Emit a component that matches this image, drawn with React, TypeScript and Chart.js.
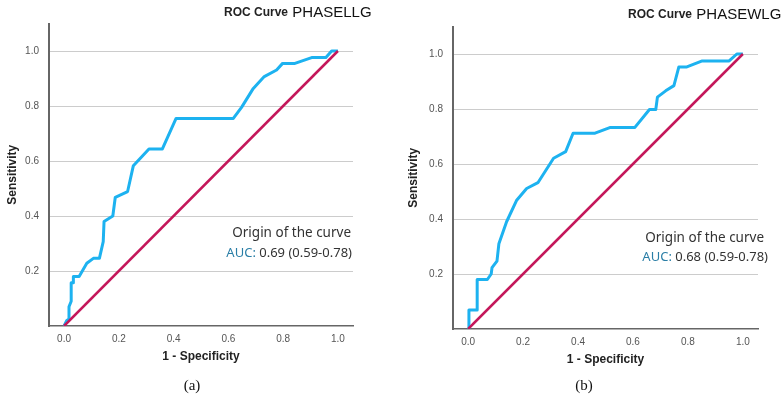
import React, { useEffect, useRef } from "react";
import { Chart, registerables } from "chart.js";

Chart.register(...registerables);

// ---- data ----
const xTickValues = [0, 0.2, 0.4, 0.6, 0.8, 1.0];
const yTickValues = [0.2, 0.4, 0.6, 0.8, 1.0];
const diagonalX = [0, 1];
const diagonalY = [0, 1];

// (a) PHASELLG
const llgFpr = [0, 0.01, 0.018, 0.018, 0.026, 0.026, 0.034, 0.034, 0.055, 0.083, 0.107, 0.129, 0.143, 0.146, 0.178, 0.187, 0.232, 0.253, 0.31, 0.359, 0.409, 0.618, 0.648, 0.691, 0.731, 0.776, 0.798, 0.843, 0.904, 0.956, 0.977, 1.0];
const llgTpr = [0, 0.02, 0.025, 0.07, 0.09, 0.157, 0.157, 0.18, 0.18, 0.228, 0.246, 0.246, 0.307, 0.38, 0.4, 0.468, 0.489, 0.583, 0.644, 0.644, 0.755, 0.755, 0.795, 0.864, 0.907, 0.931, 0.955, 0.955, 0.976, 0.976, 1.0, 1.0];

// (b) PHASEWLG
const wlgFpr = [0, 0.003, 0.033, 0.033, 0.07, 0.084, 0.087, 0.105, 0.112, 0.14, 0.176, 0.213, 0.254, 0.311, 0.355, 0.382, 0.462, 0.518, 0.607, 0.66, 0.683, 0.689, 0.719, 0.749, 0.767, 0.796, 0.852, 0.95, 0.978, 1.0];
const wlgTpr = [0, 0.069, 0.069, 0.18, 0.18, 0.2, 0.223, 0.247, 0.31, 0.39, 0.467, 0.511, 0.532, 0.621, 0.645, 0.712, 0.712, 0.733, 0.733, 0.798, 0.798, 0.843, 0.866, 0.885, 0.953, 0.953, 0.975, 0.975, 1.0, 1.0];

const panelTitles = ["PHASELLG", "PHASEWLG"];
const aucValues = ["0.69 (0.59-0.78)", "0.68 (0.59-0.78)"];
const panelLetters = ["(a)", "(b)"];

type Layout = {
  left: number;
  width: number;
  height: number;
  padRight: number;
  padTop: number;
  yWidth: number;
  xHeight: number;
  titleX: number;
  titleY: number;
  annRight: number;
  annY: number;
  aucRight: number;
  aucY: number;
  xTitleY: number;
  yTitleX: number;
  letterX: number;
  letterY: number;
};

const layouts: Layout[] = [
  {
    left: 0, width: 392, height: 395, padRight: 39, padTop: 23.5, yWidth: 49, xHeight: 69,
    titleX: 224, titleY: 13, annRight: 351, annY: 233, aucRight: 352, aucY: 253,
    xTitleY: 357, yTitleX: 13, letterX: 192, letterY: 386,
  },
  {
    left: 392, width: 392, height: 395, padRight: 26, padTop: 26.5, yWidth: 61, xHeight: 66,
    titleX: 236, titleY: 15, annRight: 372, annY: 238, aucRight: 376, aucY: 257,
    xTitleY: 360, yTitleX: 22, letterX: 192, letterY: 386,
  },
];

function RocPanel(props: { fpr: number[]; tpr: number[]; name: string; auc: string; letter: string; lay: Layout }) {
  const ref = useRef<HTMLCanvasElement | null>(null);
  useEffect(() => {
    const canvas = ref.current;
    if (!canvas) return;
    const { fpr, tpr, name, auc, letter, lay } = props;
    const textPlugin = {
      id: "rocText",
      afterDraw(chart: any) {
        const ctx = chart.ctx as CanvasRenderingContext2D;
        const area = chart.chartArea;
        ctx.save();
        ctx.textBaseline = "middle";
        // title
        ctx.textAlign = "left";
        ctx.fillStyle = "#222";
        ctx.font = "bold 12px 'Liberation Sans', Arial, sans-serif";
        ctx.fillText("ROC Curve", lay.titleX, lay.titleY);
        const w1 = ctx.measureText("ROC Curve ").width;
        ctx.font = "15px 'Liberation Sans', Arial, sans-serif";
        ctx.fillStyle = "#111";
        ctx.fillText(name, lay.titleX + w1 + 1, lay.titleY);
        // annotation
        ctx.font = "13.5px 'Noto Sans', sans-serif";
        ctx.textAlign = "right";
        ctx.fillStyle = "#333";
        ctx.fillText("Origin of the curve", lay.annRight, lay.annY);
        ctx.font = "13px 'Noto Sans', sans-serif";
        const valTxt = " " + auc;
        ctx.fillText(valTxt, lay.aucRight, lay.aucY);
        const vw = ctx.measureText(valTxt).width;
        ctx.fillStyle = "#2A7EA6";
        ctx.fillText("AUC:", lay.aucRight - vw, lay.aucY);
        // axis titles
        ctx.fillStyle = "#222";
        ctx.font = "bold 12px 'Liberation Sans', Arial, sans-serif";
        ctx.textAlign = "center";
        ctx.fillText("1 - Specificity", (area.left + area.right) / 2, lay.xTitleY);
        ctx.save();
        ctx.translate(lay.yTitleX, (area.top + area.bottom) / 2);
        ctx.rotate(-Math.PI / 2);
        ctx.fillText("Sensitivity", 0, 0);
        ctx.restore();
        // panel letter
        ctx.font = "15px 'Liberation Serif', 'Times New Roman', serif";
        ctx.fillStyle = "#111";
        ctx.fillText(letter, lay.letterX, lay.letterY);
        ctx.restore();
      },
    };
    const chart = new Chart(canvas, {
      type: "line",
      data: {
        datasets: [
          {
            label: "Reference",
            data: diagonalX.map((x, i) => ({ x, y: diagonalY[i] })),
            borderColor: "#C4175A",
            borderWidth: 2.5,
            pointRadius: 0,
            tension: 0,
            fill: false,
          },
          {
            label: name,
            data: fpr.map((x, i) => ({ x, y: tpr[i] })),
            borderColor: "#1DB2F0",
            borderWidth: 3,
            pointRadius: 0,
            tension: 0,
            fill: false,
            borderJoinStyle: "round",
          },
        ],
      },
      options: {
        animation: false,
        responsive: false,
        devicePixelRatio: 1,
        layout: { padding: { left: 0, right: lay.padRight, top: lay.padTop, bottom: 0 } },
        plugins: { legend: { display: false }, tooltip: { enabled: false }, title: { display: false } },
        scales: {
          x: {
            type: "linear",
            min: -0.055,
            max: 1.055,
            afterBuildTicks: (s: any) => {
              s.ticks = xTickValues.map((v) => ({ value: v }));
            },
            afterFit: (s: any) => {
              s.height = lay.xHeight;
            },
            ticks: {
              padding: 7,
              color: "#555",
              font: { family: "'Liberation Sans', Arial, sans-serif", size: 10 },
              callback: (v: any) => Number(v).toFixed(1),
              maxRotation: 0,
              autoSkip: false,
            },
            grid: { display: true, drawOnChartArea: false, drawTicks: false },
            border: { display: true, color: "#666666", width: 1.5 },
          },
          y: {
            type: "linear",
            min: 0,
            max: 1.1,
            afterBuildTicks: (s: any) => {
              s.ticks = yTickValues.map((v) => ({ value: v }));
            },
            afterFit: (s: any) => {
              s.width = lay.yWidth;
            },
            ticks: {
              padding: 10,
              color: "#555",
              font: { family: "'Liberation Sans', Arial, sans-serif", size: 10 },
              callback: (v: any) => Number(v).toFixed(1),
              autoSkip: false,
            },
            grid: { color: "#cccccc", lineWidth: 1, drawTicks: false },
            border: { display: true, color: "#666666", width: 2 },
          },
        },
      } as any,
      plugins: [textPlugin],
    });
    return () => chart.destroy();
  }, []);
  const lay = props.lay;
  return (
    <div style={{ position: "absolute", left: lay.left, top: 0, width: lay.width, height: lay.height }}>
      <canvas ref={ref} width={lay.width} height={lay.height} style={{ width: lay.width, height: lay.height, display: "block" }} />
    </div>
  );
}

export default function App() {
  return (
    <div style={{ position: "absolute", left: 0, top: 0, width: 784, height: 395, background: "#fff", overflow: "hidden" }}>
      <RocPanel fpr={llgFpr} tpr={llgTpr} name={panelTitles[0]} auc={aucValues[0]} letter={panelLetters[0]} lay={layouts[0]} />
      <RocPanel fpr={wlgFpr} tpr={wlgTpr} name={panelTitles[1]} auc={aucValues[1]} letter={panelLetters[1]} lay={layouts[1]} />
    </div>
  );
}
